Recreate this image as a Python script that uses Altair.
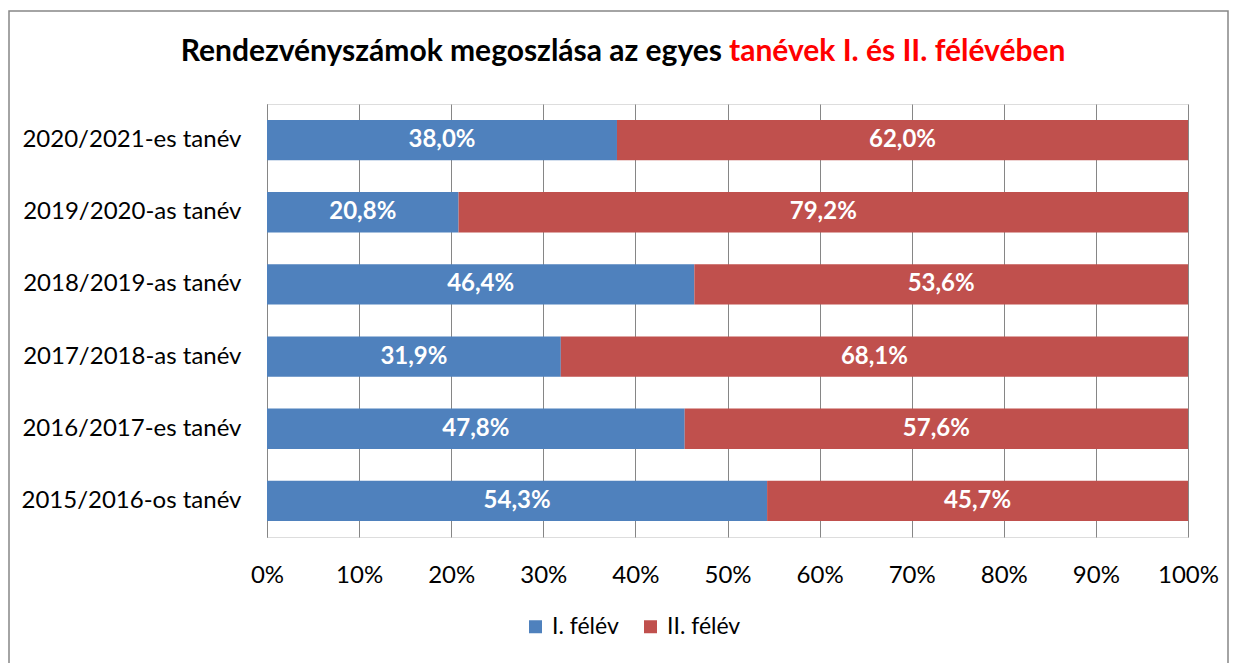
import altair as alt
import pandas as pd

years = ["2020/2021-es tanév", "2019/2020-as tanév", "2018/2019-as tanév",
         "2017/2018-as tanév", "2016/2017-es tanév", "2015/2016-os tanév"]
first_half = [38.0, 20.8, 46.4, 31.9, 47.8, 54.3]
second_half = [62.0, 79.2, 53.6, 68.1, 57.6, 45.7]
series = ["I. félév", "II. félév"]
colors = ["#4F81BD", "#C0504D"]
x_ticks = [0, 0.1, 0.2, 0.3, 0.4, 0.5, 0.6, 0.7, 0.8, 0.9, 1.0]
title_black = "Rendezvényszámok megoszlása az egyes"
title_red = "tanévek I. és II. félévében"

FONT = "Lato"

rows = []
for y, a, b in zip(years, first_half, second_half):
    rows.append({"year": y, "series": series[0], "value": a, "order": 0})
    rows.append({"year": y, "series": series[1], "value": b, "order": 1})
df = pd.DataFrame(rows)

xscale = alt.Scale(domain=[0, 1], nice=False)
yenc = alt.Y("year:N", sort=years, title=None,
             scale=alt.Scale(paddingInner=0.44, paddingOuter=0.22),
             axis=alt.Axis(labelFontSize=24, labelColor="#000000", labelFont=FONT,
                           ticks=False, labelPadding=26, domainColor="#868686",
                           domainWidth=1, labelLimit=400))

base = alt.Chart(df)

bars = base.mark_bar().encode(
    x=alt.X("value:Q", stack="normalize", scale=xscale, title=None,
            axis=alt.Axis(values=x_ticks, format=".0%", labelFontSize=24,
                          labelFont=FONT, labelColor="#000000", grid=True,
                          gridColor="#868686", domain=False, ticks=False,
                          labelPadding=26, labelFlush=False)),
    y=yenc,
    color=alt.Color("series:N", scale=alt.Scale(domain=series, range=colors),
                    title=None,
                    legend=alt.Legend(orient="none", direction="horizontal",
                                      legendX=257, legendY=511,
                                      symbolType="square", symbolSize=169,
                                      symbolStrokeWidth=0,
                                      labelFontSize=23, labelFont=FONT,
                                      labelColor="#000000", labelOffset=5,
                                      columnPadding=20, padding=0)),
    order=alt.Order("order:Q"),
)

labels = base.transform_joinaggregate(
    total="sum(value)", groupby=["year"]
).transform_window(
    cum="sum(value)", groupby=["year"], sort=[alt.SortField("order")],
    frame=[None, 0]
).transform_calculate(
    mid="(datum.cum - datum.value/2) / datum.total",
    lab="replace(format(datum.value, '.1f'), '.', ',') + '%'"
).mark_text(color="white", fontWeight="bold", fontSize=24, font=FONT,
            baseline="middle").encode(
    x=alt.X("mid:Q", scale=xscale),
    y=yenc,
    text="lab:N",
)

tdf_b = pd.DataFrame({"t": [title_black]})
tdf_r = pd.DataFrame({"t": [title_red]})
t_black = alt.Chart(tdf_b).mark_text(
    align="right", baseline="middle", fontSize=30, fontWeight="bold",
    font=FONT, color="#000000").encode(
    x=alt.value(455), y=alt.value(-52), text="t:N")
t_red = alt.Chart(tdf_r).mark_text(
    align="left", baseline="middle", fontSize=30, fontWeight="bold",
    font=FONT, color="#FF0000").encode(
    x=alt.value(462), y=alt.value(-52), text="t:N")

border = alt.Chart(pd.DataFrame({"b": [0]})).mark_rect(
    fill=None, stroke="#868686", strokeWidth=1.5).encode(
    x=alt.value(-258), x2=alt.value(961), y=alt.value(-93), y2=alt.value(620))

chart = alt.layer(border, bars, labels, t_black, t_red).properties(
    width=921, height=433,
    autosize=alt.AutoSizeParams(type="none"),
    padding={"left": 259, "top": 96, "right": 41, "bottom": 126},
).configure_view(stroke=None).configure(background="white")

chart.save("out.html", embed_options={"renderer": "svg", "actions": False})
